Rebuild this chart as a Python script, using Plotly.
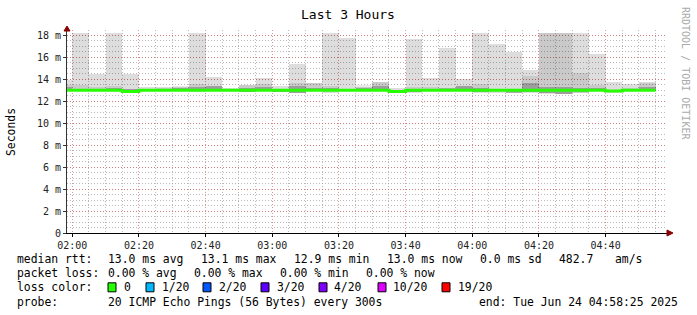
import plotly.graph_objects as go

# ---------------- data ----------------
bin_start = ["01:55", "02:00", "02:05", "02:10", "02:15", "02:20", "02:25", "02:30", "02:35",
             "02:40", "02:45", "02:50", "02:55", "03:00", "03:05", "03:10", "03:15", "03:20",
             "03:25", "03:30", "03:35", "03:40", "03:45", "03:50", "03:55", "04:00", "04:05",
             "04:10", "04:15", "04:20", "04:25", "04:30", "04:35", "04:40", "04:45", "04:50"]
bin_end = "04:55"

# smoke envelope (ms)
smoke_max = [13.9, 18.24, 14.5, 18.24, 14.5, 13.3, 13.35, 13.3, 18.24,
             14.25, 13.2, 13.5, 14.1, 13.4, 15.4, 13.7, 18.26, 17.8,
             13.3, 13.8, 13.2, 17.7, 14.1, 16.9, 14.0, 18.24, 17.2,
             16.5, 14.9, 18.24, 18.24, 18.24, 16.35, 13.8, 13.6, 13.8]
smoke_min = [12.9, 12.9, 12.9, 12.9, 12.72, 12.9, 12.9, 12.9, 12.85,
             12.9, 12.9, 12.85, 12.9, 12.82, 12.75, 12.9, 12.8, 12.9,
             12.9, 12.9, 12.76, 12.8, 12.9, 12.9, 12.9, 12.8, 12.8,
             12.77, 12.8, 12.7, 12.65, 12.75, 12.9, 12.8, 12.9, 12.9]
# denser (medium) part of the smoke
band_hi = [13.5, 13.5, 13.3, 13.4, 13.1, 13.1, 13.25, 13.4, 13.55,
           13.4, 13.1, 13.5, 13.6, 13.1, 13.7, 13.7, 13.4, 13.1,
           13.5, 13.75, 13.05, 13.3, 13.3, 13.1, 13.36, 13.6, 13.1,
           13.1, 14.3, 18.24, 18.24, 14.6, 13.5, 13.05, 13.25, 13.67]
band_lo = [12.92, 12.92, 12.92, 12.92, 12.8, 12.92, 12.92, 12.92, 12.9,
           12.92, 12.92, 12.88, 12.92, 12.86, 12.8, 12.92, 12.85, 12.92,
           12.92, 12.92, 12.8, 12.85, 12.92, 12.92, 12.92, 12.85, 12.9,
           12.82, 12.85, 12.72, 12.68, 12.8, 12.92, 12.85, 12.92, 12.92]
# darkest part near the median
dark_hi = [13.3, 13.15, 13.15, 13.25, 13.1, 13.05, 13.15, 13.2, 13.3,
           13.4, 13.05, 13.2, 13.3, 13.05, 13.4, 13.2, 13.2, 13.05,
           13.2, 13.4, 13.0, 13.15, 13.15, 13.2, 13.36, 13.2, 13.05,
           13.05, 13.7, 13.3, 13.3, 13.2, 13.2, 13.05, 13.15, 13.3]
dark_lo = [12.95, 12.95, 12.95, 12.95, 12.74, 12.95, 12.95, 12.95, 12.93,
           12.95, 12.95, 12.86, 12.95, 12.84, 12.77, 12.95, 12.9, 12.95,
           12.95, 12.95, 12.85, 12.84, 12.95, 12.95, 12.95, 12.82, 12.95,
           12.8, 12.88, 12.72, 12.67, 12.82, 12.95, 12.9, 12.95, 12.95]
median = [13.0, 13.0, 13.0, 13.0, 12.9, 13.0, 13.0, 13.0, 13.0,
          13.0, 13.0, 13.0, 13.0, 13.0, 13.0, 13.0, 13.0, 13.0,
          13.0, 13.0, 12.9, 13.0, 13.0, 13.0, 13.0, 13.0, 13.0,
          13.0, 13.0, 13.0, 13.0, 13.0, 13.0, 12.95, 13.0, 13.0]

y_ticks = [0, 2, 4, 6, 8, 10, 12, 14, 16, 18]
y_tick_labels = ["0", "2 m", "4 m", "6 m", "8 m", "10 m", "12 m", "14 m", "16 m", "18 m"]

rtt_stats = [("avg", "13.0"), ("max", "13.1"), ("min", "12.9"), ("now", "13.0")]
rtt_sd = "0.0"
rtt_am = "482.7"
loss_stats = [("avg", "0.00"), ("max", "0.00"), ("min", "0.00"), ("now", "0.00")]
loss_labels = ["0", "1/20", "2/20", "3/20", "4/20", "10/20", "19/20"]
loss_colors = ["#26ff00", "#00b8ff", "#0059ff", "#5e00ff", "#7e00ff", "#dd00ff", "#ff0000"]
probe_text = "20 ICMP Echo Pings (56 Bytes) every 300s"
end_text = "end: Tue Jun 24 04:58:25 2025"
title_text = "Last 3 Hours"

DAY = "2025-06-24 "
xs = [DAY + t + ":00" for t in bin_start]
x_end = DAY + bin_end + ":00"
STEP_MS = 300000

# ---------------- layout helpers ----------------
L, R, T, B = 67, 667, 30, 233
W, H = R - L, B - T
FONT = "DejaVu Sans Mono"


def px(x):
    return (x - L) / W


def py(y):
    return (B - y) / H


fig = go.Figure()


def band(lo, hi, color):
    fig.add_trace(go.Bar(
        x=xs, y=[h - l for h, l in zip(hi, lo)], base=lo,
        width=[STEP_MS] * len(xs), offset=0,
        marker=dict(color=color, line=dict(width=0)),
        hoverinfo="skip", showlegend=False))


band(smoke_min, smoke_max, "rgba(0,0,0,0.135)")
band(band_lo, band_hi, "rgba(0,0,0,0.09)")
band(dark_lo, dark_hi, "rgba(0,0,0,0.22)")

fig.add_trace(go.Scatter(
    x=xs + [x_end], y=median + [median[-1]], mode="lines",
    line=dict(color="#26ff00", width=3, shape="hv"),
    hoverinfo="skip", showlegend=False))

grid_major = "rgba(215,100,100,0.7)"
grid_minor = "rgba(140,140,140,0.6)"
DASH = "1px,2px"

fig.update_layout(
    width=697, height=315,
    margin=dict(l=L, r=697 - R, t=T, b=315 - B),
    paper_bgcolor="white", plot_bgcolor="white",
    barmode="overlay", bargap=0,
    showlegend=False,
    font=dict(family=FONT, size=10, color="#222"),
    xaxis=dict(
        type="date",
        range=[DAY + "01:58:25", DAY + "04:58:25"],
        tick0=DAY + "02:00:00", dtick=1200000, tickformat="%H:%M",
        showgrid=True, gridcolor=grid_major, griddash=DASH, gridwidth=1,
        minor=dict(dtick=STEP_MS, tick0=DAY + "02:00:00", showgrid=True,
                   gridcolor=grid_minor, griddash=DASH, gridwidth=1),
        showline=True, linecolor="#000", linewidth=1,
        ticks="outside", ticklen=3, tickcolor="#000",
        zeroline=False, fixedrange=True,
        tickfont=dict(family=FONT, size=10, color="#222"),
    ),
    yaxis=dict(
        range=[0, 18.5],
        tickvals=y_ticks, ticktext=y_tick_labels,
        showgrid=True, gridcolor=grid_major, griddash=DASH, gridwidth=1,
        minor=dict(dtick=0.5, showgrid=True, gridcolor=grid_minor,
                   griddash=DASH, gridwidth=1),
        showline=True, linecolor="#333", linewidth=1,
        ticks="outside", ticklen=3, tickcolor="#333",
        zeroline=False, fixedrange=True,
        tickfont=dict(family=FONT, size=10, color="#222"),
    ),
)

ann = []
shapes = []


def text(x, y, s, size=11.4, color="#000", anchor="left", angle=0):
    ann.append(dict(x=px(x), y=py(y), xref="paper", yref="paper", text=s,
                    showarrow=False, xanchor=anchor, yanchor="middle",
                    textangle=angle, borderpad=0,
                    font=dict(family=FONT, size=size, color=color)))


# title and side labels
text(348, 14, title_text, size=13, anchor="center")
text(11, 132, "Seconds", size=11.4, anchor="center", angle=-90)
text(686, 73, "RRDTOOL / TOBI OETIKER", size=10, color="#aaaaaa", anchor="center", angle=90)

# legend lines
y1, y2, y3, y4 = 259.3, 273.3, 287.3, 301.7
text(16, y1, "median rtt:")
for (name, val), xx in zip(rtt_stats, [107, 200, 293, 386]):
    text(xx, y1, f"{val} ms {name}")
text(479, y1, f"{rtt_sd} ms sd")
text(558, y1, rtt_am)
text(614, y1, "am/s")

text(16, y2, "packet loss:")
for (name, val), xx in zip(loss_stats, [107, 193, 279, 365]):
    text(xx, y2, f"{val} % {name}")

text(16, y3, "loss color:")
box_x = [108, 146, 203, 261, 319, 378, 442]
lab_x = [123, 161, 218, 276, 333, 392, 457]
for lab, col, bx, lx in zip(loss_labels, loss_colors, box_x, lab_x):
    shapes.append(dict(type="rect", xref="paper", yref="paper",
                       x0=px(bx), x1=px(bx + 8), y0=py(y3 + 4.5), y1=py(y3 - 4.5),
                       fillcolor=col, line=dict(color="#000", width=1)))
    text(lx, y3, lab)

text(16, y4, "probe:")
text(107, y4, probe_text)
text(478, y4, end_text)

# axis arrows (dark red)
shapes.append(dict(type="path", xref="paper", yref="paper",
                   path=f"M {px(64)} {py(31)} L {px(70)} {py(31)} L {px(67)} {py(26)} Z",
                   fillcolor="#8b0000", line=dict(color="#8b0000", width=1)))
shapes.append(dict(type="path", xref="paper", yref="paper",
                   path=f"M {px(667)} {py(230)} L {px(667)} {py(236)} L {px(673)} {py(233)} Z",
                   fillcolor="#8b0000", line=dict(color="#8b0000", width=1)))

fig.update_layout(annotations=ann, shapes=shapes)
fig.write_html("out.html")
